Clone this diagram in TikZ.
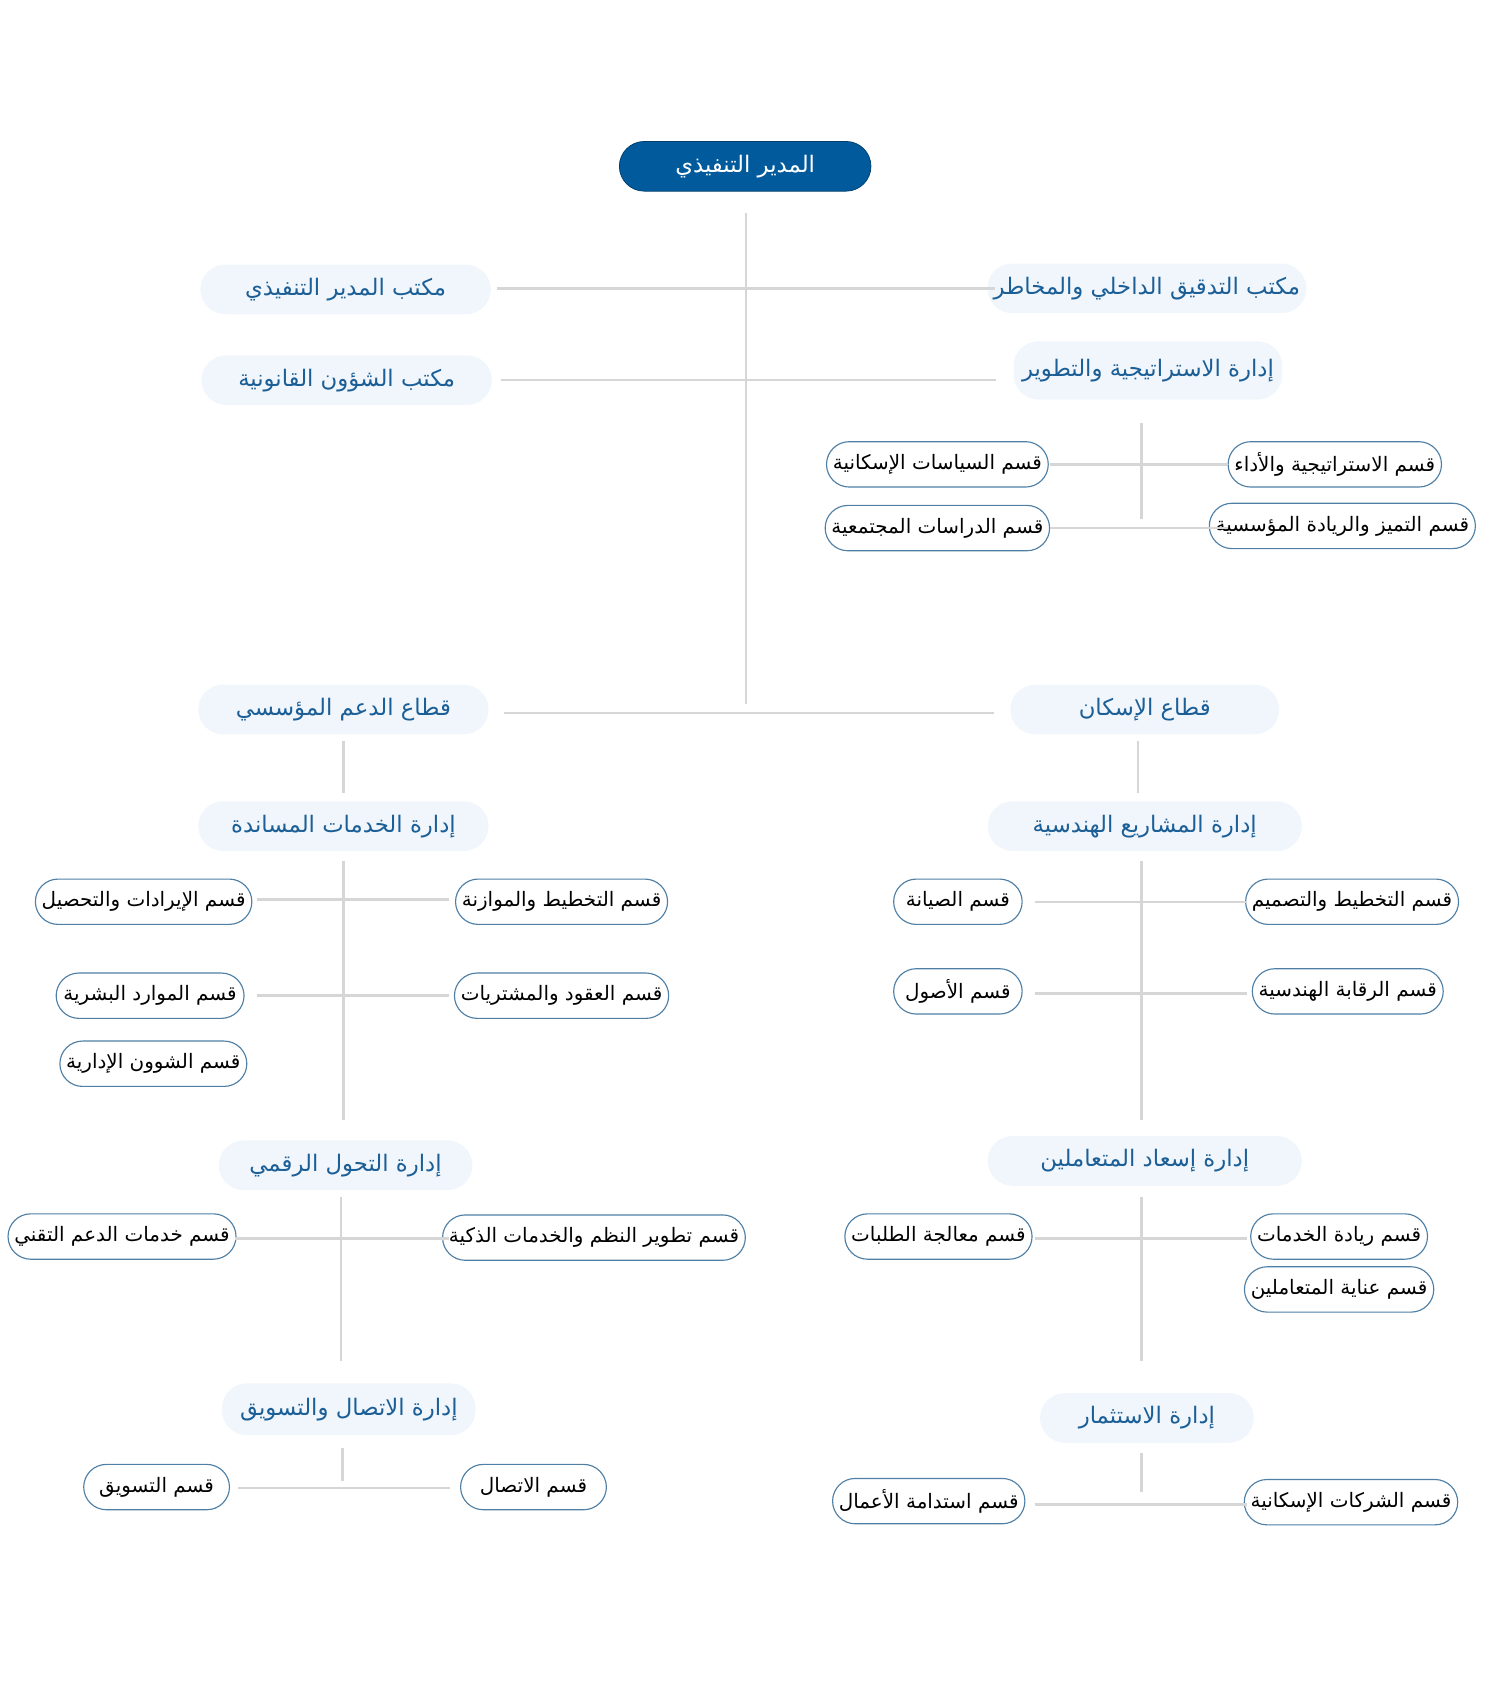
\documentclass[tikz,border=0pt]{standalone}
\usepackage{fontspec}
\newfontfamily\arabicfont[Script=Arabic]{DejaVu Sans}
\TeXXeTstate=1
\newcommand{\ar}[1]{\arabicfont\beginR #1\endR}
\definecolor{hblue}{HTML}{005A9C}
\definecolor{htext}{HTML}{1C5F97}
\definecolor{hfill}{HTML}{F0F6FB}
\definecolor{sline}{HTML}{4F7FA5}
\definecolor{lgray}{HTML}{D6D6D6}
\tikzset{top/.style = {fill=hblue, draw=hblue!70!black, rounded corners=0.46cm,
                       minimum height=0.92cm, text=white, font=\fontsize{12}{14}\selectfont},
         hdr/.style = {fill=hfill, rounded corners=0.46cm, minimum height=0.92cm,
                       text=htext, font=\fontsize{12}{14}\selectfont},
         sect/.style = {fill=white, draw=sline, line width=0.6pt, rounded corners=0.42cm,
                        minimum height=0.84cm, font=\fontsize{10.5}{12}\selectfont},
         link/.style = {draw=lgray, line width=1.3pt}}
\begin{document}
\begin{tikzpicture}[x=0.02cm, y=-0.02cm]
    \useasboundingbox (0, 0) rectangle (1380, 1564);

    % top level
    \node [top, minimum width=4.66cm] (ceo) at (690, 154) {\ar{المدير التنفيذي}};
    \draw [link] (691, 197) coordinate (spine) -- (691, 652);

    \node [hdr, minimum width=5.38cm] (ceoff) at (320, 268) {\ar{مكتب المدير التنفيذي}};
    \node [hdr, minimum width=5.38cm] (legal) at (321, 352) {\ar{مكتب الشؤون القانونية}};
    \node [hdr, minimum width=4.98cm] (audit) at (1062, 267) {\ar{مكتب التدقيق الداخلي والمخاطر}};
    \node [hdr, minimum width=4.98cm, minimum height=1.08cm] (strat) at (1063, 343) {\ar{إدارة الاستراتيجية والتطوير}};
    \draw [link] (460, 267) -- (921, 267);
    \draw [link] (464, 352) -- (922, 352);

    % strategy sections
    \node [sect, minimum width=3.72cm] (pol) at (868, 430) {\ar{قسم السياسات الإسكانية}};
    \node [sect, minimum width=3.72cm] (soc) at (868, 489) {\ar{قسم الدراسات المجتمعية}};
    \node [sect, minimum width=3.74cm] (perf) at (1236, 430) {\ar{قسم الاستراتيجية والأداء}};
    \node [sect, minimum width=4.02cm] (exc) at (1243, 487) {\ar{قسم التميز والريادة المؤسسية}};
    \draw [link] (1057, 392) -- (1057, 481);
    \draw [link] (972, 430) -- (1137, 430);
    \draw [link] (972, 489) -- (1137, 489);

    % sectors
    \node [hdr, minimum width=5.38cm] (supp) at (318, 657) {\ar{قطاع الدعم المؤسسي}};
    \node [hdr, minimum width=4.98cm] (hous) at (1060, 657) {\ar{قطاع الإسكان}};
    \draw [link] (467, 660) -- (920, 660);

    % support sector
    \draw [link] (318, 686) -- (318, 734);
    \node [hdr, minimum width=5.38cm] (serv) at (318, 765) {\ar{إدارة الخدمات المساندة}};
    \draw [link] (318, 797) -- (318, 1037);
    \node [sect, minimum width=3.72cm] (rev) at (133, 835) {\ar{قسم الإيرادات والتحصيل}};
    \node [sect, minimum width=3.72cm] (budg) at (520, 835) {\ar{قسم التخطيط والموازنة}};
    \draw [link] (238, 833) -- (416, 833);
    \node [sect, minimum width=3.48cm] (hr) at (139, 922) {\ar{قسم الموارد البشرية}};
    \node [sect, minimum width=3.72cm] (proc) at (520, 922) {\ar{قسم العقود والمشتريات}};
    \draw [link] (238, 922) -- (416, 922);
    \node [sect, minimum width=3.36cm] (adm) at (142, 985) {\ar{قسم الشوون الإدارية}};

    \node [hdr, minimum width=4.7cm] (dig) at (320, 1079) {\ar{إدارة التحول الرقمي}};
    \draw [link] (316, 1108) -- (316, 1260);
    \node [sect, minimum width=3.76cm] (tech) at (113, 1145) {\ar{قسم خدمات الدعم التقني}};
    \node [sect, minimum width=4.9cm] (smart) at (550, 1146) {\ar{قسم تطوير النظم والخدمات الذكية}};
    \draw [link] (218, 1147) -- (416, 1147);

    \node [hdr, minimum width=4.7cm, minimum height=0.96cm] (comm) at (323, 1305) {\ar{إدارة الاتصال والتسويق}};
    \draw [link] (317, 1341) -- (317, 1371);
    \node [sect, minimum width=2.7cm] (mkt) at (145, 1377) {\ar{قسم التسويق}};
    \node [sect, minimum width=2.7cm] (cont) at (494, 1377) {\ar{قسم الاتصال}};
    \draw [link] (220, 1378) -- (417, 1378);

    % housing sector
    \draw [link] (1054, 686) -- (1054, 734);
    \node [hdr, minimum width=5.82cm] (eng) at (1060, 765) {\ar{إدارة المشاريع الهندسية}};
    \draw [link] (1057, 797) -- (1057, 1037);
    \node [sect, minimum width=2.38cm] (mnt) at (887, 835) {\ar{قسم الصيانة}};
    \node [sect, minimum width=3.56cm] (dsgn) at (1252, 835) {\ar{قسم التخطيط والتصميم}};
    \draw [link] (958, 835) -- (1155, 835);
    \node [sect, minimum width=2.38cm] (ast) at (887, 918) {\ar{قسم الأصول}};
    \node [sect, minimum width=3.28cm] (ctrl) at (1248, 918) {\ar{قسم الرقابة الهندسية}};
    \draw [link] (958, 920) -- (1155, 920);

    \node [hdr, minimum width=5.82cm] (happy) at (1060, 1075) {\ar{إدارة إسعاد المتعاملين}};
    \draw [link] (1057, 1108) -- (1057, 1260);
    \node [sect, minimum width=3.1cm] (req) at (869, 1145) {\ar{قسم معالجة الطلبات}};
    \node [sect, minimum width=3.12cm] (lead) at (1240, 1145) {\ar{قسم ريادة الخدمات}};
    \node [sect, minimum width=3.12cm] (care) at (1240, 1194) {\ar{قسم عناية المتعاملين}};
    \draw [link] (958, 1147) -- (1155, 1147);

    \node [hdr, minimum width=3.96cm] (inv) at (1062, 1313) {\ar{إدارة الاستثمار}};
    \draw [link] (1057, 1345) -- (1057, 1382);
    \node [sect, minimum width=3.4cm] (sust) at (860, 1390) {\ar{قسم استدامة الأعمال}};
    \node [sect, minimum width=3.58cm] (comp) at (1251, 1391) {\ar{قسم الشركات الإسكانية}};
    \draw [link] (958, 1393) -- (1155, 1393);
  \end{tikzpicture}
\end{document}
